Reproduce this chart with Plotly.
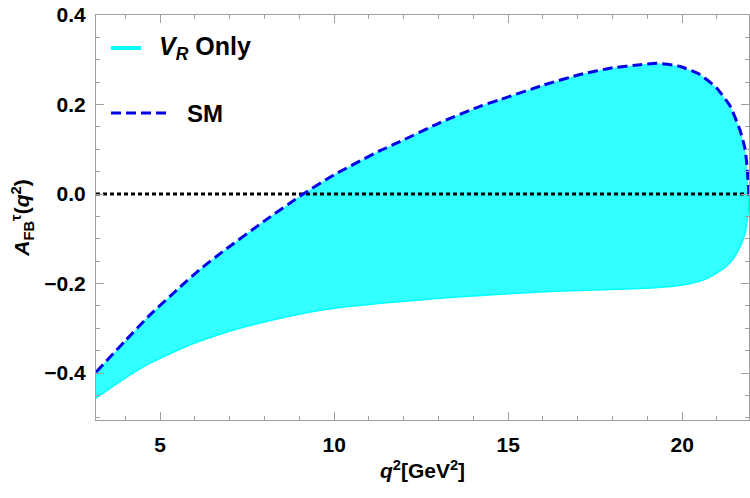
import plotly.graph_objects as go

# SM curve (upper edge of band)
sm_q = [3.157, 4.0, 4.71, 5.5, 6.15, 6.81, 8.0, 9.11, 10.0, 11.32, 11.89, 13.0, 14.19, 14.77,
        16.0, 17.06, 18.0, 18.79, 19.27, 19.94, 20.51, 20.99, 21.38, 21.66, 21.81, 21.87,
        21.91, 21.92]
sm_a = [-0.398, -0.328, -0.270, -0.213, -0.168, -0.128, -0.060, 0.0, 0.043, 0.097, 0.117,
        0.158, 0.196, 0.211, 0.243, 0.267, 0.282, 0.289, 0.292, 0.285, 0.267, 0.237, 0.196,
        0.143, 0.099, 0.054, 0.009, 0.0]

# V_R only band lower edge
lo_q = [3.157, 3.94, 4.71, 5.86, 6.81, 7.58, 9.02, 10.45, 13.33, 16.2, 18.79, 19.75, 20.24,
        20.71, 21.18, 21.47, 21.66, 21.81, 21.87, 21.91, 21.92]
lo_a = [-0.456, -0.414, -0.378, -0.337, -0.311, -0.294, -0.268, -0.251, -0.231, -0.218,
        -0.211, -0.206, -0.200, -0.189, -0.167, -0.144, -0.118, -0.088, -0.058, -0.028, 0.0]

x_range = [3.157, 21.92]
y_range = [-0.505, 0.4]
x_ticks = [5, 10, 15, 20]
y_ticks = [-0.4, -0.2, 0.0, 0.2, 0.4]
y_ticklabels = ["\u22120.4", "\u22120.2", "0.0", "0.2", "0.4"]

FONT = "Liberation Sans, Arial, sans-serif"
CYAN_FILL = "rgb(50,255,255)"
CYAN = "rgb(0,255,255)"
BLUE = "rgb(0,0,235)"
FRAME = "rgb(160,160,160)"
SMOOTH = 0.5

fig = go.Figure()

# band polygon
fig.add_trace(go.Scatter(
    x=lo_q + sm_q[::-1], y=lo_a + sm_a[::-1],
    fill="toself", fillcolor=CYAN_FILL, mode="lines",
    line=dict(color=CYAN_FILL, width=0, shape="spline", smoothing=SMOOTH),
    hoverinfo="skip", showlegend=False))
# lower edge
fig.add_trace(go.Scatter(
    x=lo_q, y=lo_a, mode="lines",
    line=dict(color=CYAN, width=1.5, shape="spline", smoothing=SMOOTH),
    showlegend=False))
# zero line
fig.add_trace(go.Scatter(
    x=x_range, y=[0, 0], mode="lines",
    line=dict(color="black", width=3, dash="4px,3px"), showlegend=False))
# SM
fig.add_trace(go.Scatter(
    x=sm_q, y=sm_a, mode="lines",
    line=dict(color=BLUE, width=3, dash="10px,5px", shape="spline", smoothing=SMOOTH),
    showlegend=False))

# custom legend (paper coordinates)
fig.add_shape(type="line", xref="paper", yref="paper",
              x0=(111 - 96) / 653, x1=(141 - 96) / 653,
              y0=(420 - 48) / 405, y1=(420 - 48) / 405,
              line=dict(color=CYAN, width=4))
fig.add_shape(type="line", xref="paper", yref="paper",
              x0=(111 - 96) / 653, x1=(167 - 96) / 653,
              y0=(420 - 113) / 405, y1=(420 - 113) / 405,
              line=dict(color=BLUE, width=3, dash="10px,5px"))
fig.add_annotation(xref="paper", yref="paper", x=(157 - 96) / 653, y=(420 - 48) / 405,
                   xanchor="left", yanchor="middle", showarrow=False,
                   text="<b><i>V</i><sub><i>R</i></sub> Only</b>",
                   font=dict(family=FONT, size=25, color="black"))
fig.add_annotation(xref="paper", yref="paper", x=(185 - 96) / 653, y=(420 - 113) / 405,
                   xanchor="left", yanchor="middle", showarrow=False,
                   text="<b>SM</b>",
                   font=dict(family=FONT, size=24, color="black"))

fig.update_layout(
    width=750, height=498,
    margin=dict(l=96, r=1, t=15, b=78),
    paper_bgcolor="white", plot_bgcolor="white",
    font=dict(family=FONT, size=21, color="black"),
    showlegend=False,
)
fig.update_xaxes(
    range=x_range, tickvals=x_ticks, ticktext=[f"<b>{t}</b>" for t in x_ticks],
    ticks="inside", ticklen=8, tickcolor=FRAME, tickwidth=1,
    showline=True, linecolor=FRAME, linewidth=1, mirror="ticks",
    showgrid=False, zeroline=False,
    minor=dict(dtick=1, tick0=0, ticks="inside", ticklen=4, tickcolor=FRAME),
    tickfont=dict(size=21), ticklabelstandoff=6,
    title=dict(text="<b><i>q</i><sup>2</sup>[GeV<sup>2</sup>]</b>", font=dict(size=21), standoff=8),
)
fig.update_yaxes(
    range=y_range, tickvals=y_ticks, ticktext=[f"<b>{t}</b>" for t in y_ticklabels],
    ticks="inside", ticklen=8, tickcolor=FRAME, tickwidth=1,
    showline=True, linecolor=FRAME, linewidth=1, mirror="ticks",
    showgrid=False, zeroline=False,
    minor=dict(dtick=0.05, tick0=0, ticks="inside", ticklen=4, tickcolor=FRAME),
    tickfont=dict(size=21), ticklabelstandoff=5,
    title=dict(text="<b><i>A</i><sub>FB</sub><sup>\u03c4</sup>(<i>q</i><sup>2</sup>)</b>",
               font=dict(size=21), standoff=8),
)

fig.write_html("out.html")
